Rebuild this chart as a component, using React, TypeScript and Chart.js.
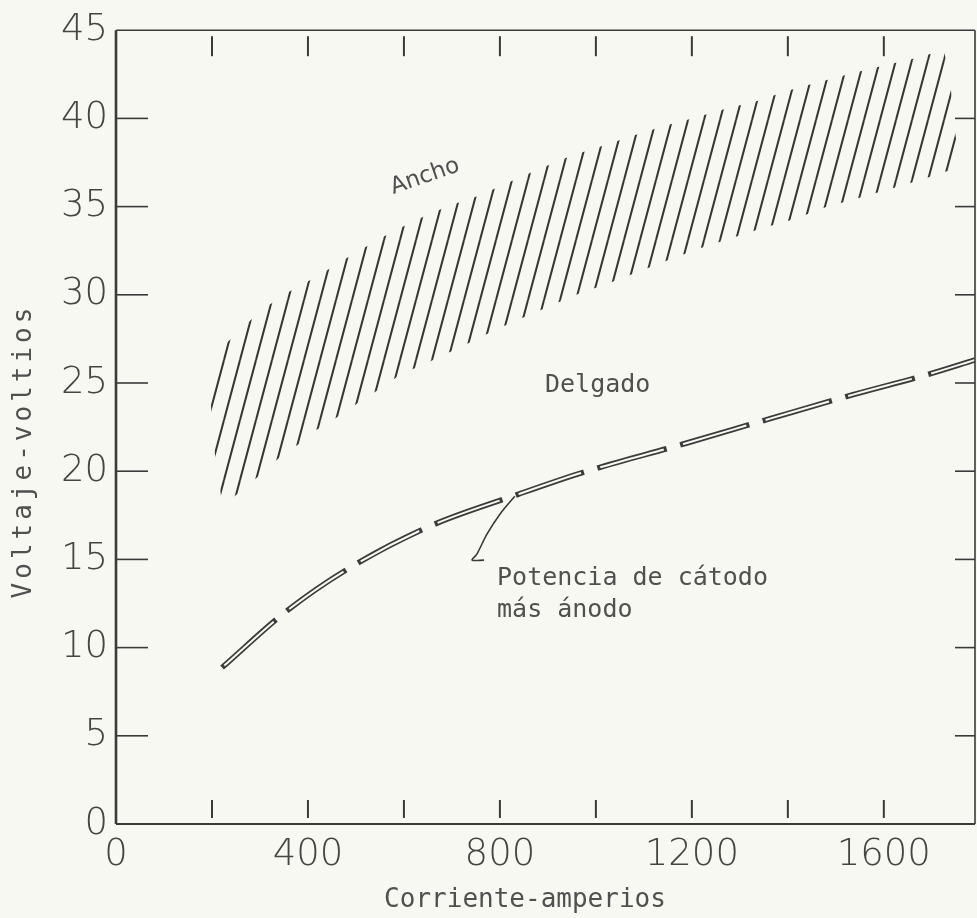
import { useEffect, useRef } from 'react';
import { Chart, registerables } from 'chart.js';

Chart.register(...registerables);

// ---- axes ----
const xTickLabels = [0, 400, 800, 1200, 1600];
const yTickLabels = [0, 5, 10, 15, 20, 25, 30, 35, 40, 45];
const innerXTicks = [200, 400, 600, 800, 1000, 1200, 1400, 1600];
const innerYTicks = [5, 10, 15, 20, 25, 30, 35, 40];

// ---- "Ancho" hatched band (amperios, voltios) ----
const anchoUpperA = [202, 242, 281, 319, 356, 423, 494, 558, 623, 690, 756, 821, 888, 950, 1015, 1077, 1144, 1206, 1271, 1336, 1398, 1465, 1529, 1596, 1659, 1725];
const anchoUpperV = [26.6, 27.55, 28.57, 29.42, 30.1, 31.11, 32.3, 33.31, 34.21, 35.0, 35.62, 36.41, 37.2, 37.89, 38.45, 39.02, 39.58, 40.03, 40.54, 40.99, 41.56, 42.07, 42.52, 42.97, 43.37, 43.87];
const anchoRightA = [1738, 1744, 1752, 1752];
const anchoRightV = [42.3, 40.2, 38.5, 37.2];
const anchoLowerA = [221, 273, 313, 348, 383, 419, 456, 492, 525, 556, 592, 661, 727, 794, 890, 956, 1021, 1086, 1150, 1217, 1282, 1346, 1411, 1477, 1544, 1609, 1673, 1736];
const anchoLowerV = [18.01, 19.14, 20.1, 20.95, 21.57, 22.36, 22.98, 23.66, 24.22, 24.79, 25.47, 26.31, 27.16, 28.06, 29.19, 29.98, 30.6, 31.28, 31.96, 32.64, 33.2, 33.77, 34.27, 34.95, 35.46, 35.97, 36.48, 37.04];
const anchoLeftA = [217, 206, 200, 192];
const anchoLeftV = [19.03, 21.0, 23.09, 25.35];

// ---- "Potencia de cátodo más ánodo" curve ----
const potenciaA = [221, 356, 483, 654, 838, 967, 1186, 1363, 1536, 1696, 1790];
const potenciaV = [8.87, 12.08, 14.46, 16.88, 18.69, 19.88, 21.57, 22.98, 24.34, 25.52, 26.31];

// ---- leader line to the label ----
const leaderA = [831, 800, 773, 752, 742, 767];
const leaderV = [18.58, 17.56, 16.43, 15.3, 14.96, 14.96];

// ---- annotations ----
const noteTexts = ['Ancho', 'Delgado', 'Potencia de cátodo', 'más ánodo'];
const noteA = [644, 894, 794, 794];
const noteV = [36.7, 24.85, 13.89, 12.08];

const PAPER = '#f8f8f2';
const INK = '#3a3a3a';
const TYPE = '#505050';

const pts = (a: number[], v: number[]) => a.map((x, i) => ({ x, y: v[i] }));

function makeHatch(): CanvasPattern | string {
  const W = 16, H = 60;
  const c = document.createElement('canvas');
  c.width = W; c.height = H;
  const g = c.getContext('2d');
  if (!g) return INK;
  g.strokeStyle = '#353535';
  g.lineWidth = 2;
  for (const off of [-W, 0, W]) {
    g.beginPath();
    g.moveTo(off, H);
    g.lineTo(off + W, 0);
    g.stroke();
  }
  const p = g.createPattern(c, 'repeat');
  return p || INK;
}

const decor = {
  id: 'decor',
  afterDraw(chart: any) {
    const { ctx, chartArea: a, scales } = chart;
    const x = scales.x, y = scales.y;
    ctx.save();
    ctx.strokeStyle = INK;
    ctx.lineCap = 'butt';
    const seg = (x1: number, y1: number, x2: number, y2: number, w: number) => {
      ctx.lineWidth = w;
      ctx.beginPath();
      ctx.moveTo(x1, y1);
      ctx.lineTo(x2, y2);
      ctx.stroke();
    };
    // frame
    seg(a.left, a.top, a.right, a.top, 1.6);
    seg(a.left, a.bottom, a.right, a.bottom, 2);
    seg(a.left, a.top, a.left, a.bottom, 2.6);
    seg(a.right, a.top, a.right, a.bottom, 1.6);
    // inward ticks
    innerXTicks.forEach((v) => {
      const px = x.getPixelForValue(v);
      seg(px, a.top + 6, px, a.top + 26, 2);
      seg(px, a.bottom - 6, px, a.bottom - 24, 2);
    });
    innerYTicks.forEach((v) => {
      const py = y.getPixelForValue(v);
      seg(a.left, py, a.left + 32, py, 1.6);
      seg(a.right - 20, py, a.right, py, 1.6);
    });

    // annotations
    ctx.fillStyle = TYPE;
    ctx.textBaseline = 'middle';
    // Ancho (rotated)
    {
      const px = x.getPixelForValue(noteA[0]);
      const py = y.getPixelForValue(noteV[0]);
      ctx.save();
      ctx.translate(px, py);
      ctx.rotate(-19 * Math.PI / 180);
      ctx.textAlign = 'center';
      ctx.font = '23px "DejaVu Sans"';
      ctx.fillText(noteTexts[0], 0, 0);
      ctx.restore();
    }
    ctx.textAlign = 'left';
    ctx.font = '25px "DejaVu Sans Mono"';
    for (let i = 1; i < noteTexts.length; i++) {
      ctx.fillText(noteTexts[i], x.getPixelForValue(noteA[i]), y.getPixelForValue(noteV[i]));
    }

    // axis titles
    ctx.font = '26px "DejaVu Sans Mono"';
    ctx.textAlign = 'center';
    ctx.fillText('Corriente-amperios', 525, 900);
    ctx.save();
    ctx.translate(24, 453);
    ctx.rotate(-Math.PI / 2);
    (ctx as any).letterSpacing = '4px';
    ctx.fillText('Voltaje-voltios', 2, 0);
    ctx.restore();

    ctx.restore();
  },
};

export default function App() {
  const ref = useRef<HTMLCanvasElement | null>(null);

  useEffect(() => {
    if (!ref.current) return;
    const hatch = makeHatch();
    const tickFont = { family: '"DejaVu Sans"', size: 37, weight: '200' as any };
    const chart = new Chart(ref.current, {
      type: 'scatter',
      data: {
        datasets: [
          {
            label: 'Potencia de cátodo más ánodo (interior)',
            data: pts(potenciaA, potenciaV),
            showLine: true,
            borderColor: PAPER,
            borderWidth: 2,
            borderDash: [66, 20],
            borderDashOffset: -3,
            cubicInterpolationMode: 'monotone',
            pointRadius: 0,
            fill: false,
          },
          {
            label: 'Potencia de cátodo más ánodo',
            data: pts(potenciaA, potenciaV),
            showLine: true,
            borderColor: '#3c3c3c',
            borderWidth: 5.5,
            borderDash: [72, 14],
            cubicInterpolationMode: 'monotone',
            pointRadius: 0,
            fill: false,
          },
          {
            label: 'leader',
            data: pts(leaderA, leaderV),
            showLine: true,
            borderColor: INK,
            borderWidth: 1.6,
            tension: 0.3,
            pointRadius: 0,
            fill: false,
          },
          {
            label: 'Ancho',
            data: [
              ...pts(anchoUpperA, anchoUpperV),
              ...pts(anchoRightA, anchoRightV),
              ...pts(anchoLowerA, anchoLowerV).reverse(),
              ...pts(anchoLeftA, anchoLeftV),
            ],
            showLine: true,
            borderWidth: 0,
            borderColor: 'transparent',
            backgroundColor: hatch as any,
            fill: 'shape',
            tension: 0,
            pointRadius: 0,
          },
        ],
      },
      options: {
        responsive: true,
        maintainAspectRatio: false,
        animation: false,
        events: [],
        layout: { padding: { top: 27, right: 2, left: 0, bottom: 0 } },
        plugins: {
          legend: { display: false },
          tooltip: { enabled: false },
          title: { display: false },
        },
        scales: {
          x: {
            type: 'linear',
            min: 0,
            max: 1790,
            grid: { display: false, drawTicks: false },
            border: { display: false },
            afterFit: (s: any) => { s.height = 94; },
            afterBuildTicks: (s: any) => { s.ticks = xTickLabels.map((v) => ({ value: v })); },
            ticks: {
              autoSkip: false,
              maxRotation: 0,
              includeBounds: false,
              padding: 9,
              color: '#454545',
              font: tickFont,
              callback: (v: any) => String(v),
            },
          },
          y: {
            type: 'linear',
            min: 0,
            max: 45,
            grid: { display: false, drawTicks: false },
            border: { display: false },
            afterFit: (s: any) => { s.width = 116; },
            afterBuildTicks: (s: any) => { s.ticks = yTickLabels.map((v) => ({ value: v })); },
            ticks: {
              autoSkip: false,
              padding: 8,
              color: '#454545',
              font: tickFont,
              callback: (v: any) => String(v),
            },
          },
        },
      },
      plugins: [decor],
    });
    return () => chart.destroy();
  }, []);

  return (
    <div style={{ position: 'absolute', left: 0, top: 0, width: 977, height: 918, background: PAPER }}>
      <canvas ref={ref} />
    </div>
  );
}
